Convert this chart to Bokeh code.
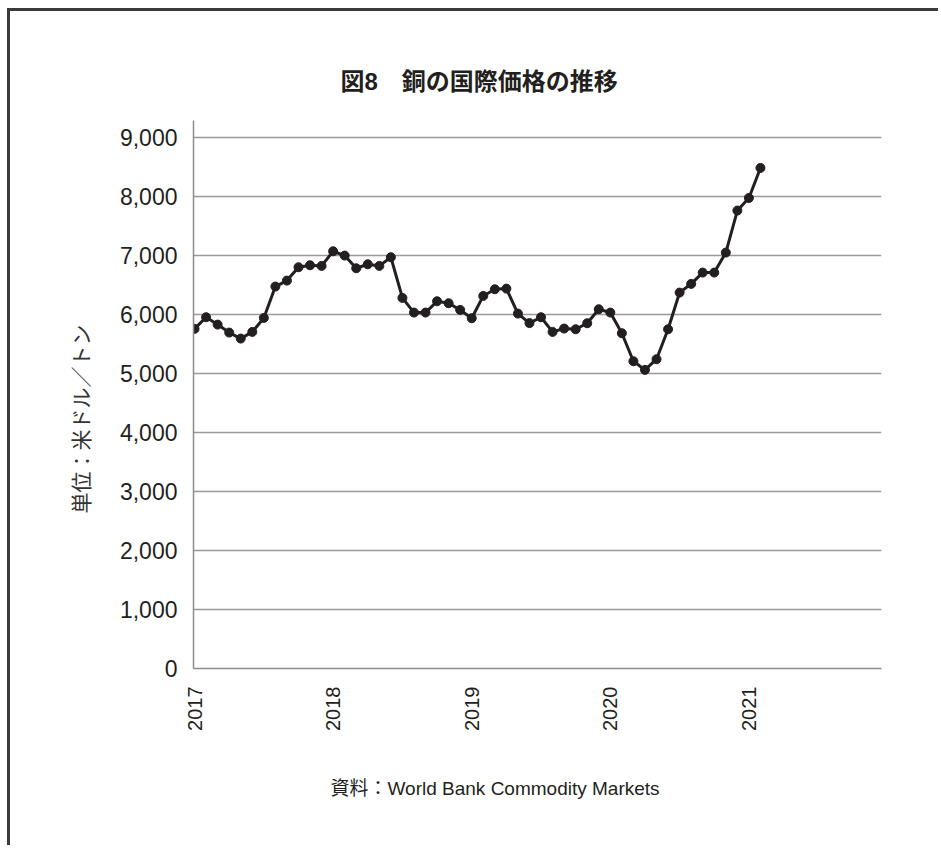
import numpy as np
from bokeh.plotting import figure
from bokeh.models import Range1d, FixedTicker, NumeralTickFormatter, Title
from bokeh.embed import file_html
from bokeh.resources import INLINE

# Monthly copper price (US$/t), Jan 2017 - Feb 2021
prices = [5758, 5955, 5830, 5695, 5593, 5706, 5943, 6475, 6576, 6802, 6836, 6825,
          7073, 7000, 6785, 6853, 6825, 6972, 6282, 6034, 6034, 6226, 6192, 6079,
          5938, 6316, 6429, 6440, 6017, 5855, 5955, 5706, 5763, 5751, 5853, 6090,
          6034, 5684, 5209, 5062, 5243, 5751, 6373, 6520, 6712, 6712, 7051, 7763,
          7977, 8486]
month_index = list(range(len(prices)))
year_ticks = [0, 12, 24, 36, 48]
year_labels = ["2017", "2018", "2019", "2020", "2021"]
y_ticks = [0, 1000, 2000, 3000, 4000, 5000, 6000, 7000, 8000, 9000]

title_text = "図8　銅の国際価格の推移"
ylabel_text = "単位：米ドル／トン"
source_text = "資料：World Bank Commodity Markets"

MIXED = "'Liberation Sans', 'Noto Sans CJK JP'"

W, H = 931, 837
p = figure(width=W, height=H, output_backend="svg", toolbar_location=None,
           x_range=Range1d(-0.09, 59.48), y_range=Range1d(0, 9290),
           min_border_left=183, min_border_right=60, min_border_top=109,
           min_border_bottom=180)
p.outline_line_color = None
p.background_fill_color = "white"
p.border_fill_color = "white"
p.styles = {"margin-left": "10px", "margin-top": "11px",
            "box-shadow": "-3px -3px 0px 0px #3a3a3a"}

ink = "#231f20"
gridc = "#999999"

p.line(month_index, prices, line_color=ink, line_width=3)
p.scatter(month_index, prices, size=9, fill_color=ink, line_color=ink)

xa = p.xaxis[0]
xa.ticker = FixedTicker(ticks=year_ticks)
xa.major_label_overrides = {t: l for t, l in zip(year_ticks, year_labels)}
xa.major_label_orientation = np.pi / 2
xa.major_tick_line_color = None
xa.minor_tick_line_color = None
xa.axis_line_color = "#8c8c8c"
xa.axis_line_width = 1.5
xa.major_label_standoff = 12
xa.major_label_text_font = "Liberation Sans"
xa.major_label_text_font_size = "20px"
xa.major_label_text_color = ink

ya = p.yaxis[0]
ya.ticker = FixedTicker(ticks=y_ticks)
ya.formatter = NumeralTickFormatter(format="0,0")
ya.major_tick_line_color = None
ya.minor_tick_line_color = None
ya.axis_line_color = "#8c8c8c"
ya.axis_line_width = 1.5
ya.major_label_standoff = 10
ya.major_label_text_font = "Liberation Sans"
ya.major_label_text_font_size = "23px"
ya.major_label_text_color = ink

p.xgrid.visible = False
p.ygrid.ticker = FixedTicker(ticks=y_ticks)
p.ygrid.grid_line_color = gridc
p.ygrid.grid_line_width = 1.5

# spacer then real title (later-added sits further out)
p.add_layout(Title(text=" ", text_font_size="8px"), "above")
p.add_layout(Title(text=title_text, align="left", offset=147,
                   text_font=MIXED, text_font_size="24px",
                   text_font_style="bold", text_color=ink), "above")

# unit label on the left side
p.add_layout(Title(text=" ", text_font_size="4px"), "left")
p.add_layout(Title(text=ylabel_text, align="left", offset=155,
                   text_font="Noto Sans CJK JP", text_font_size="21px",
                   text_font_style="normal", text_color="#333333"), "left")

p.add_layout(Title(text=" ", text_font_size="22px"), "below")
p.add_layout(Title(text=source_text, align="left", offset=137,
                   text_font=MIXED, text_font_size="19px",
                   text_font_style="normal", text_color=ink), "below")

open("out.html", "w").write(file_html(p, INLINE))
